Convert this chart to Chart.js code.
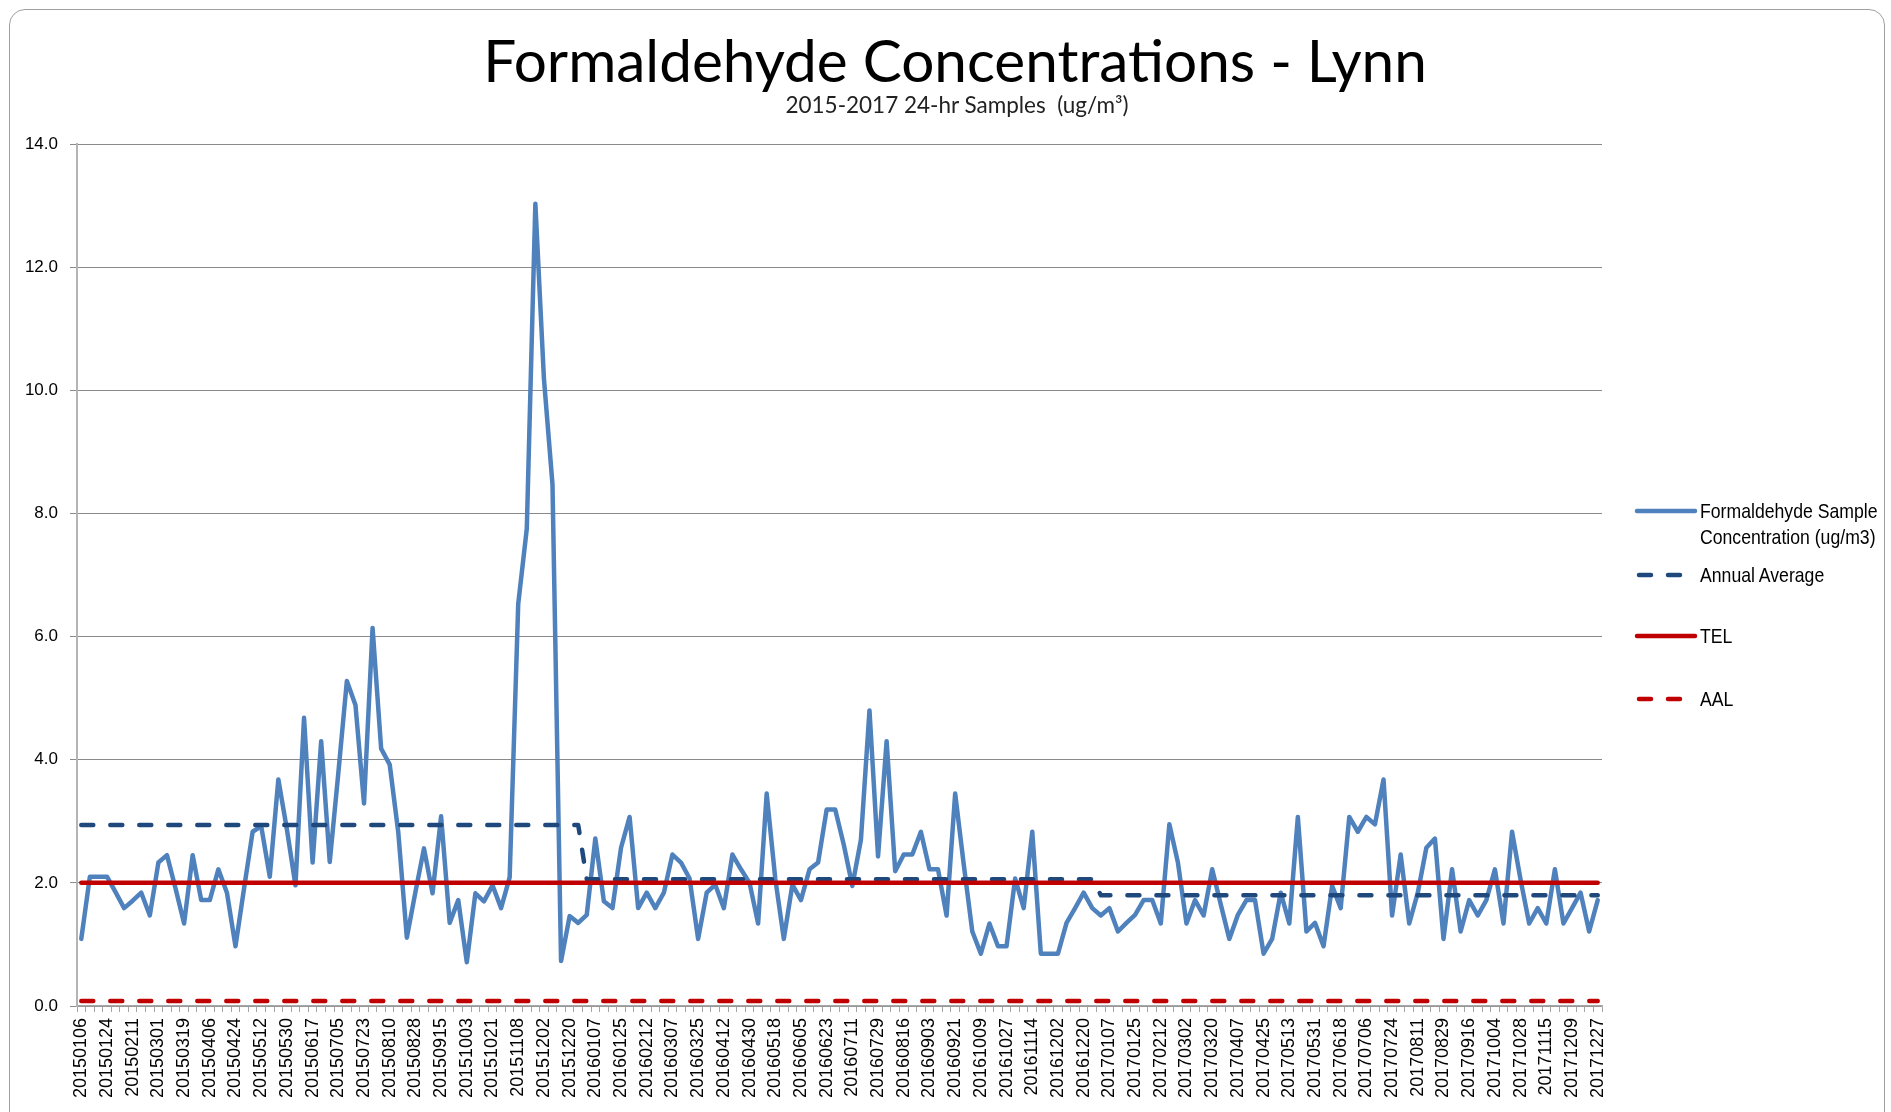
<!DOCTYPE html>
<html>
<head>
<meta charset="utf-8">
<script src="https://cdn.jsdelivr.net/npm/chart.js@4.4.1/dist/chart.umd.min.js"></script>
<style>
html,body{margin:0;padding:0;background:#fff;}
#wrap{position:relative;width:1891px;height:1112px;overflow:hidden;background:#fff;}
#frame{position:absolute;left:9px;top:9px;width:1876px;height:1200px;border:1.5px solid #a0a0a0;border-radius:16px;box-sizing:border-box;}
#c{position:absolute;left:0;top:0;}
.t{position:absolute;white-space:nowrap;color:#000;}
#title{left:955px;top:30px;transform:translateX(-50%);font-family:Lato,"Open Sans",sans-serif;font-size:58.5px;line-height:58px;}
#subtitle{left:957px;top:93px;transform:translateX(-50%);font-family:Lato,"Open Sans",sans-serif;font-size:22.5px;line-height:23px;color:#222;}
.lg{position:absolute;left:1700px;font-family:"Liberation Sans",Arial,sans-serif;font-size:21px;line-height:26px;color:#000;white-space:nowrap;transform:scaleX(0.84);transform-origin:0 50%;}
#lsvg{position:absolute;left:0;top:0;}
</style>
</head>
<body>
<div id="wrap">
  <div id="frame"></div>
  <canvas id="c" width="1891" height="1112"></canvas>
  <div class="t" id="title">Formaldehyde Concentrations - Lynn</div>
  <div class="t" id="subtitle">2015-2017 24-hr Samples&nbsp;&nbsp;(ug/m³)</div>
  <svg id="lsvg" width="1891" height="1112">
    <line x1="1637" y1="511" x2="1695" y2="511" stroke="#4f81bd" stroke-width="4.5" stroke-linecap="round"/>
    <line x1="1639" y1="575" x2="1681" y2="575" stroke="#1f497d" stroke-width="4.5" stroke-linecap="round" stroke-dasharray="12 17"/>
    <line x1="1637" y1="636" x2="1695" y2="636" stroke="#c00000" stroke-width="4.5" stroke-linecap="round"/>
    <line x1="1639" y1="699" x2="1681" y2="699" stroke="#c00000" stroke-width="4.5" stroke-linecap="round" stroke-dasharray="12 17"/>
  </svg>
  <div class="lg" style="top:498px;">Formaldehyde Sample</div>
  <div class="lg" style="top:524px;">Concentration (ug/m3)</div>
  <div class="lg" style="top:562px;">Annual Average</div>
  <div class="lg" style="top:623px;">TEL</div>
  <div class="lg" style="top:686px;">AAL</div>
</div>
<script>
// ---- sample dates (categories) ----
const dates2015 = ["20150106","20150112","20150118","20150124","20150130","20150205","20150211","20150217","20150223","20150301",
"20150307","20150313","20150319","20150325","20150331","20150406","20150412","20150418","20150424","20150430",
"20150506","20150512","20150518","20150524","20150530","20150605","20150611","20150617","20150623","20150629",
"20150705","20150711","20150717","20150723","20150729","20150804","20150810","20150816","20150822","20150828",
"20150903","20150909","20150915","20150921","20150927","20151003","20151009","20151015","20151021","20151027",
"20151102","20151108","20151114","20151120","20151202","20151208","20151214","20151220","20151226"];
const dates2016 = ["20160101","20160107","20160113","20160119","20160125","20160131","20160206","20160212","20160218","20160224",
"20160307","20160313","20160319","20160325","20160331","20160406","20160412","20160418","20160424","20160430",
"20160506","20160512","20160518","20160524","20160530","20160605","20160611","20160617","20160623","20160629",
"20160705","20160711","20160717","20160723","20160729","20160804","20160810","20160816","20160822","20160828",
"20160903","20160909","20160915","20160921","20160927","20161003","20161009","20161015","20161021","20161027",
"20161102","20161108","20161114","20161120","20161126","20161202","20161208","20161214","20161220","20161226"];
const dates2017 = ["20170101","20170107","20170113","20170119","20170125","20170131","20170206","20170212","20170218","20170224",
"20170302","20170308","20170314","20170320","20170326","20170401","20170407","20170413","20170419","20170425",
"20170501","20170507","20170513","20170519","20170525","20170531","20170606","20170612","20170618","20170624",
"20170630","20170706","20170712","20170718","20170724","20170730","20170805","20170811","20170817","20170823",
"20170829","20170904","20170910","20170916","20170922","20170928","20171004","20171010","20171016","20171028",
"20171103","20171109","20171115","20171121","20171127","20171209","20171215","20171221","20171227"];

// ---- formaldehyde sample concentrations (ug/m3) ----
const conc2015 = [1.09,2.10,2.10,2.10,1.85,1.59,1.71,1.84,1.47,2.33,
2.45,1.91,1.34,2.45,1.72,1.72,2.22,1.84,0.97,1.91,
2.83,2.92,2.10,3.68,2.87,1.96,4.68,2.33,4.30,2.34,
3.78,5.28,4.89,3.29,6.14,4.18,3.92,2.82,1.11,1.85,
2.56,1.83,3.08,1.35,1.72,0.71,1.83,1.70,1.96,1.59,
2.09,6.53,7.75,13.03,10.19,8.47,0.73,1.46,1.35];
const conc2016 = [1.48,2.72,1.70,1.59,2.57,3.07,1.59,1.84,1.59,1.84,
2.46,2.33,2.07,1.09,1.84,1.97,1.59,2.46,2.22,2.00,
1.34,3.45,2.07,1.09,1.97,1.72,2.22,2.33,3.19,3.19,
2.62,1.95,2.70,4.80,2.43,4.30,2.19,2.46,2.46,2.83,
2.22,2.22,1.47,3.45,2.30,1.21,0.85,1.34,0.97,0.97,
2.07,1.59,2.83,0.85,0.85,0.85,1.35,1.59,1.84,1.59];
const conc2017 = [1.47,1.59,1.21,1.35,1.48,1.72,1.72,1.34,2.95,2.33,
1.34,1.72,1.47,2.22,1.65,1.09,1.48,1.72,1.72,0.85,
1.09,1.84,1.34,3.07,1.21,1.35,0.97,1.95,1.59,3.07,
2.83,3.07,2.95,3.68,1.47,2.46,1.34,1.84,2.57,2.72,
1.09,2.22,1.21,1.72,1.47,1.72,2.22,1.34,2.83,2.05,
1.34,1.59,1.34,2.22,1.34,1.59,1.84,1.21,1.72];

// ---- reference levels ----
const annualAverage = {"2015": 2.94, "2016": 2.06, "2017": 1.80};
const TEL = 2.0;
const AAL = 0.08;

// ---- y-axis ticks ----
const yMin = 0, yMax = 14, yStep = 2;

const labels = dates2015.concat(dates2016, dates2017);
const conc = conc2015.concat(conc2016, conc2017);
const annual = labels.map(d => annualAverage[d.slice(0,4)]);
const telLine = labels.map(() => TEL);
const aalLine = labels.map(() => AAL);

const common = {pointRadius:0, pointHoverRadius:0, tension:0, fill:false,
  borderJoinStyle:'round', borderCapStyle:'round'};

new Chart(document.getElementById('c'), {
  type:'line',
  data:{
    labels: labels,
    datasets:[
      Object.assign({label:'Formaldehyde Sample Concentration (ug/m3)', data:conc, borderColor:'#4f81bd', borderWidth:4.5, order:4}, common),
      Object.assign({label:'Annual Average', data:annual, borderColor:'#1f497d', borderWidth:4.5, borderDash:[12,17], order:3}, common),
      Object.assign({label:'TEL', data:telLine, borderColor:'#c00000', borderWidth:4.5, order:2}, common),
      Object.assign({label:'AAL', data:aalLine, borderColor:'#c00000', borderWidth:4.5, borderDash:[12,17], order:1}, common)
    ]
  },
  options:{
    responsive:false,
    animation:false,
    devicePixelRatio:1,
    layout:{padding:{left:10, right:289, top:144, bottom:14}},
    plugins:{legend:{display:false}, title:{display:false}, tooltip:{enabled:false}},
    scales:{
      x:{
        offset:true,
        grid:{display:true, offset:true, drawOnChartArea:false, drawTicks:true, tickLength:6, color:'#a6a6a6', lineWidth:1},
        border:{display:true, color:'#a6a6a6', width:1.5},
        ticks:{autoSkip:false, maxRotation:90, minRotation:90, padding:6, color:'#000',
          font:{family:'"Liberation Sans", Arial, sans-serif', size:18},
          callback:function(v, i){ return i % 3 === 0 ? this.getLabelForValue(v) : ''; }},
        afterFit:function(s){ s.height = 92; }
      },
      y:{
        min:yMin, max:yMax,
        grid:{color:'#8a8a8a', lineWidth:1, tickLength:7, drawTicks:true},
        border:{display:true, color:'#b4b4b4', width:2},
        ticks:{stepSize:yStep, padding:12, color:'#000',
          font:{family:'"Liberation Sans", sans-serif', size:17},
          callback:function(v){ return Number(v).toFixed(1); }},
        afterFit:function(s){ s.width = 67; }
      }
    }
  }
});
</script>
</body>
</html>
